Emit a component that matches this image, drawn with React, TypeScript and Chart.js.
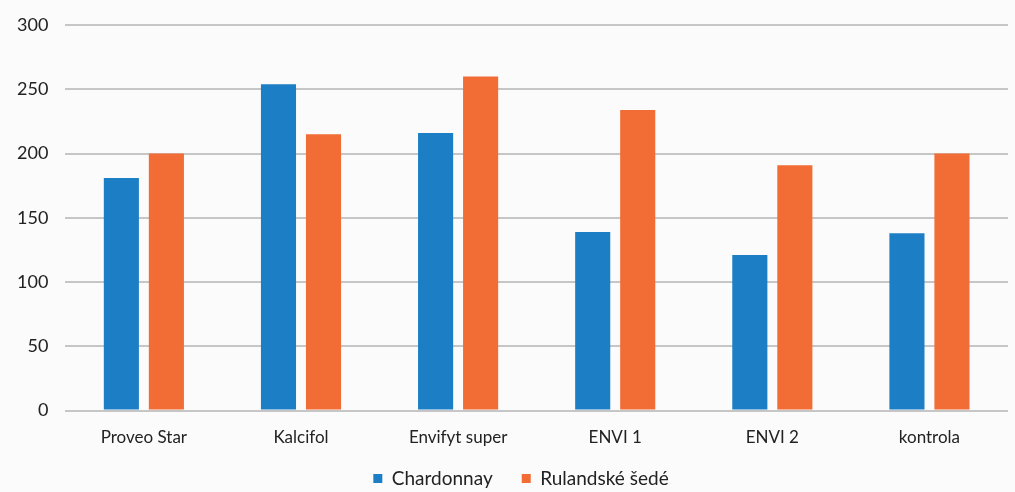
import React, { useEffect, useRef } from "react";
import { Chart, registerables } from "chart.js";

Chart.register(...registerables);

const categories = ["Proveo Star", "Kalcifol", "Envifyt super", "ENVI 1", "ENVI 2", "kontrola"];
const chardonnay = [181, 254, 216, 139, 121, 138];
const rulandske = [200, 215, 260, 234, 191, 200];
const yTicks = [0, 50, 100, 150, 200, 250, 300];

const legendPlacePlugin = {
  id: "legendPlace",
  beforeLayout(chart: any) {
    const lg = chart.legend;
    if (lg && !lg._hPatched) {
      const orig = lg.fit.bind(lg);
      lg.fit = function () {
        orig();
        this.height = 35;
      };
      lg._hPatched = true;
    }
  },
  afterLayout(chart: any) {
    const lg = chart.legend;
    if (lg) {
      lg.top -= 17;
      lg.left += 17;
      lg.right += 17;
    }
  },
};

export default function App() {
  const ref = useRef<HTMLCanvasElement | null>(null);
  useEffect(() => {
    document.body.style.margin = "0";
    const ctx = ref.current!;
    const chart = new Chart(ctx, {
      type: "bar",
      data: {
        labels: categories,
        datasets: [
          {
            label: "Chardonnay",
            data: chardonnay,
            backgroundColor: "#1c7fc5",
            categoryPercentage: 0.573,
            barPercentage: 0.78,
          },
          {
            label: "Rulandské šedé",
            data: rulandske,
            backgroundColor: "#f26d35",
            categoryPercentage: 0.573,
            barPercentage: 0.78,
          },
        ],
      },
      plugins: [legendPlacePlugin],
      options: {
        animation: false,
        responsive: false,
        maintainAspectRatio: false,
        layout: { padding: { left: 0, right: 7, top: 0, bottom: 0 } },
        font: { family: "Lato" },
        plugins: {
          legend: {
            position: "bottom",
            labels: {
              boxWidth: 9,
              boxHeight: 9,
              color: "#222",
              font: { family: "Lato", size: 19 },
              padding: 29,
            },
          },
          tooltip: { enabled: false },
        },
        scales: {
          x: {
            grid: { display: false },
            border: { display: false },
            ticks: { color: "#222", font: { family: "Lato", size: 17 }, padding: 9 },
          },
          y: {
            min: 0,
            max: 300,
            afterBuildTicks: (axis: any) => {
              axis.ticks = yTicks.map((v) => ({ value: v }));
            },
            grid: { color: "#c6c6c6", lineWidth: 2, drawTicks: false },
            border: { display: false },
            ticks: { color: "#222", font: { family: "Lato", size: 18, lineHeight: 0.9 }, padding: 17 },
          },
        },
      },
    });
    return () => chart.destroy();
  }, []);
  return (
    <div style={{ width: 1015, height: 492, background: "#fcfbfb" }}>
      <canvas ref={ref} width={1015} height={492} />
    </div>
  );
}
